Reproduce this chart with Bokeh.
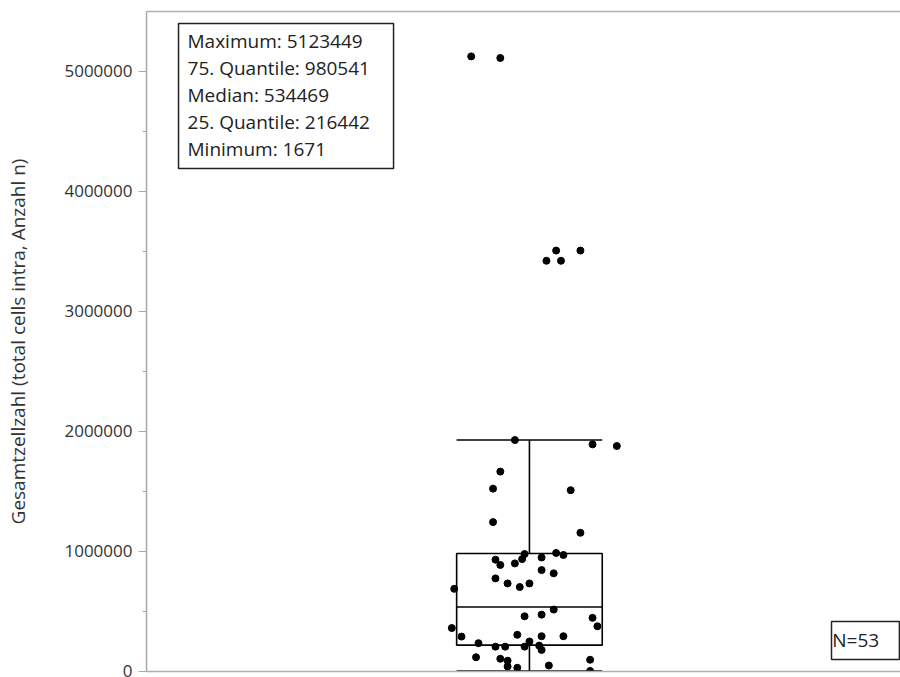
from bokeh.plotting import figure
from bokeh.models import (Range1d, LinearAxis, SingleIntervalTicker, NumeralTickFormatter,
                          FixedTicker, Label, BoxAnnotation, ColumnDataSource)
from bokeh.embed import file_html
from bokeh.resources import INLINE

# ---- data ----
zellzahl = [5123449, 5110000, 3505000, 3505000, 3420000, 3420000,
            1926000, 1890000, 1876000, 1663000, 1521000, 1508000, 1242000, 1153000,
            976000, 985000, 968000, 929000, 885000, 898000, 934000, 947000, 842000,
            815000, 773000, 731000, 701000, 731000, 686000,
            513000, 457000, 471000, 444000, 374000, 359000, 288000, 303000, 291000,
            291000, 233000, 204000, 204000, 204000, 247000, 213000, 177000, 116000,
            103000, 87000, 95000, 47000, 39000, 28000, 1671]
jitter = [-0.24, -0.12, 0.11, 0.21, 0.07, 0.13,
          -0.06, 0.26, 0.36, -0.12, -0.15, 0.17, -0.15, 0.21,
          -0.02, 0.11, 0.14, -0.14, -0.12, -0.06, -0.03, 0.05, 0.05,
          0.10, -0.14, -0.09, -0.04, 0.00, -0.31,
          0.10, -0.02, 0.05, 0.26, 0.28, -0.32, -0.28, -0.05, 0.05,
          0.14, -0.21, -0.14, -0.10, -0.02, 0.00, 0.04, 0.05, -0.22,
          -0.12, -0.09, 0.25, 0.08, -0.09, -0.05, 0.25]

stat_names = ["Maximum", "75. Quantile", "Median", "25. Quantile", "Minimum"]
stat_values = [5123449, 980541, 534469, 216442, 1671]
n_total = 53
y_label = "Gesamtzellzahl (total cells intra, Anzahl n)"
y_ticks_step = 1000000

q3 = stat_values[1]
med = stat_values[2]
q1 = stat_values[3]
iqr = q3 - q1
upper_whisker = max(v for v in zellzahl if v <= q3 + 1.5 * iqr)
lower_whisker = min(v for v in zellzahl if v >= q1 - 1.5 * iqr)

FONT = "Open Sans"
HW = 0.3  # half box width in category units

p = figure(width=900, height=677, output_backend="svg", toolbar_location=None,
           x_range=Range1d(-1.578, 1.529), y_range=Range1d(-3000, 5497500),
           min_border_left=146, min_border_right=0, min_border_top=11, min_border_bottom=6,
           x_axis_type=None, y_axis_type=None)
p.outline_line_color = None
p.grid.visible = False
p.background_fill_color = "white"
p.border_fill_color = "white"

# y axis
yax = LinearAxis(ticker=SingleIntervalTicker(interval=y_ticks_step, num_minor_ticks=2),
                 formatter=NumeralTickFormatter(format="0"))
yax.axis_label = y_label
yax.axis_label_text_font = FONT
yax.axis_label_text_font_size = "19px"
yax.axis_label_text_font_style = "normal"
yax.axis_label_text_color = "#333333"
yax.axis_label_standoff = 30
yax.major_label_text_font = FONT
yax.major_label_text_font_size = "17px"
yax.major_label_text_color = "#333333"
yax.major_label_standoff = 6
yax.axis_line_color = "#a8a8a8"
yax.axis_line_width = 1.5
yax.major_tick_line_color = "#a8a8a8"
yax.minor_tick_line_color = "#a8a8a8"
yax.major_tick_out = 8
yax.major_tick_in = 0
yax.minor_tick_out = 4
yax.minor_tick_in = 0
p.add_layout(yax, "left")

# bottom and top frame lines
for side in ("below", "above"):
    ax = LinearAxis(ticker=FixedTicker(ticks=[]), major_tick_line_color=None,
                    minor_tick_line_color=None, axis_line_color="#b0b0b0", axis_line_width=1.5,
                    major_label_standoff=0)
    p.add_layout(ax, side)

# box plot
p.quad(left=[-HW], right=[HW], bottom=[q1], top=[q3], fill_color=None,
       line_color="black", line_width=1.6)
p.segment(x0=[-HW], x1=[HW], y0=[med], y1=[med], line_color="black", line_width=1.6)
p.segment(x0=[0, 0], x1=[0, 0], y0=[q3, q1], y1=[upper_whisker, lower_whisker],
          line_color="black", line_width=1.6)
p.segment(x0=[-HW, -HW], x1=[HW, HW], y0=[upper_whisker, lower_whisker],
          y1=[upper_whisker, lower_whisker], line_color="black", line_width=1.6)

# points
src = ColumnDataSource(dict(x=jitter, y=zellzahl))
p.scatter("x", "y", source=src, size=7, color="black")

# stats box
p.add_layout(BoxAnnotation(left=-1.446, right=-0.560, top=5397500, bottom=4189000,
                           fill_color="white", fill_alpha=1.0,
                           line_color="#222222", line_alpha=1.0, line_width=1.5,
                           level="overlay"))
txt = "\n".join(f"{n}: {v}" for n, v in zip(stat_names, stat_values))
p.add_layout(Label(x=-1.409, y=5364000, text=txt, anchor="top_left",
                   text_font=FONT, text_font_size="19px", text_color="#222222",
                   text_line_height=1.043, padding=0, level="overlay"))

# N box
p.add_layout(BoxAnnotation(left=1.2447, right=1.5245, top=414000, bottom=97500,
                           fill_color="white", fill_alpha=1.0,
                           line_color="#222222", line_alpha=1.0, line_width=1.5,
                           level="overlay"))
p.add_layout(Label(x=1.248, y=256000, text=f"N={n_total}", anchor="center_left",
                   text_font=FONT, text_font_size="19px", text_color="#222222",
                   padding=0, level="overlay"))

open("out.html", "w").write(file_html(p, INLINE))
